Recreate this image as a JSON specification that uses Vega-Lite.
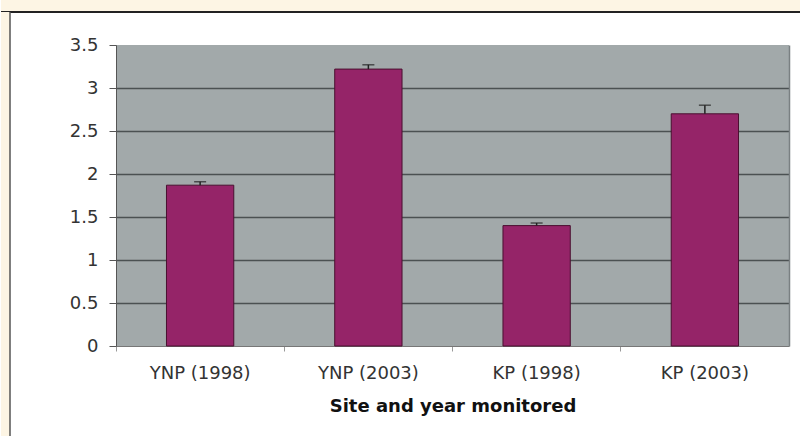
{
  "$schema": "https://vega.github.io/schema/vega-lite/v6.json",
  "background": "white",
  "padding": 0,
  "config": {
    "font": "DejaVu Sans",
    "view": {"stroke": null}
  },
  "datasets": {
    "bars": [
      {"site": "YNP (1998)", "value": 1.87, "err": 0.04},
      {"site": "YNP (2003)", "value": 3.22, "err": 0.05},
      {"site": "KP (1998)", "value": 1.40, "err": 0.03},
      {"site": "KP (2003)", "value": 2.70, "err": 0.10}
    ],
    "frame": [{"edge": 1}]
  },
  "bounds": "flush",
  "spacing": 0,
  "vconcat": [
    {
      "width": 800,
      "height": 12,
      "data": {"name": "frame"},
      "layer": [
        {
          "mark": {"type": "rect", "color": "#FDF5E4"},
          "encoding": {
            "x": {"datum": 0, "type": "quantitative", "scale": {"domain": [0, 1], "nice": false}, "axis": null},
            "x2": {"datum": 1},
            "y": {"datum": 0, "type": "quantitative", "scale": {"domain": [0, 1], "nice": false}, "axis": null},
            "y2": {"datum": 1}
          }
        },
        {
          "mark": {"type": "rule", "color": "#222222", "strokeWidth": 2},
          "encoding": {
            "y": {"datum": 0, "type": "quantitative"}
          }
        }
      ]
    },
    {
      "bounds": "flush",
      "spacing": 106,
      "hconcat": [
        {
          "width": 9,
          "height": 424,
          "data": {"name": "frame"},
          "layer": [
            {
              "mark": {"type": "rect", "color": "#FDF5E4"},
              "encoding": {
                "x": {"datum": 0, "type": "quantitative", "scale": {"domain": [0, 1], "nice": false}, "axis": null},
                "x2": {"datum": 1},
                "y": {"datum": 0, "type": "quantitative", "scale": {"domain": [0, 1], "nice": false}, "axis": null},
                "y2": {"datum": 1}
              }
            },
            {
              "mark": {"type": "rule", "color": "#555555", "strokeWidth": 1.5},
              "encoding": {
                "x": {"datum": 1, "type": "quantitative"}
              }
            }
          ]
        },
        {
          "bounds": "flush",
          "spacing": 0,
          "vconcat": [
            {
              "width": 673,
              "height": 33,
              "data": {"name": "frame"},
              "mark": {"type": "rule", "opacity": 0},
              "encoding": {
                "y": {"datum": 0, "type": "quantitative", "axis": null}
              }
            },
            {
              "width": 673,
              "height": 301,
              "view": {"fill": "#A2A9AA", "stroke": null},
              "data": {"name": "bars"},
              "encoding": {
                "x": {
                  "field": "site",
                  "type": "nominal",
                  "sort": null,
                  "scale": {"paddingInner": 0.6, "paddingOuter": 0.3},
                  "axis": {
                    "title": "Site and year monitored",
                    "titleFontSize": 18,
                    "titleFontWeight": "bold",
                    "titleColor": "#111111",
                    "titlePadding": 15,
                    "labelAngle": 0,
                    "labelFontSize": 18,
                    "labelColor": "#333333",
                    "labelPadding": 13,
                    "tickSize": 5,
                    "tickColor": "#999999",
                    "domainColor": "#777777",
                    "bandPosition": -0.75
                  }
                }
              },
              "resolve": {"axis": {"y": "independent"}},
              "layer": [
                {
                  "mark": {"type": "bar", "color": "#952468", "stroke": "#4A1030", "strokeWidth": 1},
                  "encoding": {
                    "y": {
                      "field": "value",
                      "type": "quantitative",
                      "scale": {"domain": [0, 3.5], "nice": false},
                      "axis": {
                        "title": null,
                        "values": [0, 0.5, 1, 1.5, 2, 2.5, 3, 3.5],
                        "format": "~g",
                        "labelFontSize": 18,
                        "labelColor": "#333333",
                        "labelPadding": 11,
                        "tickSize": 7,
                        "tickColor": "#555555",
                        "domainColor": "#555555",
                        "grid": true,
                        "gridColor": "#4B5152",
                        "gridWidth": 1.5,
                        "gridOpacity": {"condition": {"test": "datum.value === 3.5 || datum.value === 0", "value": 0}, "value": 1}
                      }
                    }
                  }
                },
                {
                  "mark": {"type": "rule", "color": "#222222", "strokeWidth": 1.5},
                  "encoding": {
                    "y": {
                      "field": "value",
                      "type": "quantitative",
                      "axis": {
                        "orient": "right",
                        "title": null,
                        "labels": false,
                        "ticks": false,
                        "grid": false,
                        "domainColor": "#7A8082",
                        "domainWidth": 1.5
                      }
                    },
                    "y2": {"field": "top"}
                  },
                  "transform": [{"calculate": "datum.value + datum.err", "as": "top"}]
                },
                {
                  "mark": {"type": "tick", "color": "#222222", "thickness": 1.5, "size": 12},
                  "transform": [{"calculate": "datum.value + datum.err", "as": "top"}],
                  "encoding": {
                    "y": {"field": "top", "type": "quantitative", "axis": null}
                  }
                }
              ]
            }
          ],
          "resolve": {"scale": {"x": "independent", "y": "independent"}}
        }
      ],
      "resolve": {"scale": {"x": "independent", "y": "independent"}}
    }
  ],
  "resolve": {"scale": {"x": "independent", "y": "independent"}}
}
